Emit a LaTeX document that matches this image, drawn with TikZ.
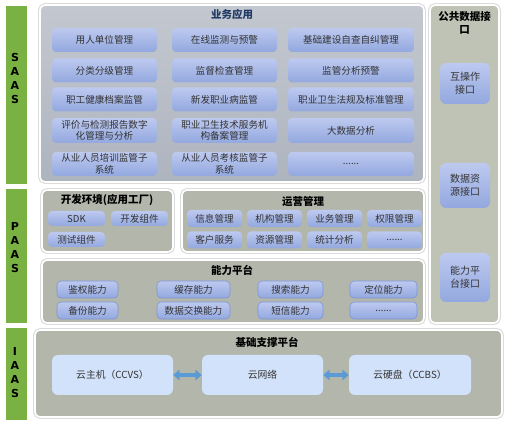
\documentclass[tikz,border=0pt]{standalone}
\usepackage{fontspec}
\setmainfont{Noto Sans CJK SC}
\newfontfamily\lettersfont{DejaVu Sans}
\usetikzlibrary{arrows.meta}
\definecolor{barg}{HTML}{79B243}
\definecolor{saastop}{HTML}{C3C8D0}
\definecolor{saasbot}{HTML}{AEB4BE}
\definecolor{graypan}{HTML}{B3B6AA}
\definecolor{rightpan}{HTML}{BFC3B5}
\definecolor{boxtop}{HTML}{BDC9EF}
\definecolor{boxbot}{HTML}{93A8DF}
\definecolor{boxline}{HTML}{7D95D6}
\definecolor{iboxfill}{HTML}{D3E2FB}
\definecolor{txt}{HTML}{333333}
\definecolor{navy}{HTML}{1F3A64}
\definecolor{arrowblue}{HTML}{5B9BD5}
\begin{document}
\begin{tikzpicture}[x=1pt,y=-1pt,
  bar/.style={fill=barg, draw=white, line width=0.8pt, minimum width=22pt, inner sep=0pt},
  letters/.style={font=\lettersfont\bfseries\fontsize{11}{14}\selectfont, align=center, inner sep=0pt},
  panel/.style={draw=white, line width=1.6pt, rounded corners=5pt, inner sep=0pt, preaction={draw=black!14, line width=3.8pt}},
  saaspanel/.style={panel, top color=saastop, bottom color=saasbot},
  graypanel/.style={panel, fill=graypan},
  rightpanel/.style={panel, fill=rightpan},
  box/.style={rounded corners=4pt, top color=boxtop, bottom color=boxbot, inner sep=0pt, text=txt, align=center, font=\fontsize{9.6}{11.5}\selectfont},
  bbox/.style={box, draw=boxline, line width=0.6pt},
  rbox/.style={box, rounded corners=6pt, minimum width=50pt, font=\fontsize{10}{13}\selectfont},
  ibox/.style={fill=iboxfill, rounded corners=6pt, inner sep=0pt, text=txt, minimum height=40pt, font=\fontsize{9.8}{12}\selectfont},
  ttl/.style={font=\bfseries\fontsize{10.5}{13}\selectfont, inner sep=0pt, align=center},
  arr/.style={draw=arrowblue, line width=4.5pt, {Triangle[width=10.5pt,length=6.5pt]}-{Triangle[width=10.5pt,length=6.5pt]}}
]
\fill[white] (0,0) rectangle (507,425);
\useasboundingbox (0,0) rectangle (507,425);

% left bars
\node[bar, minimum height=179pt] (saasbar) at (16,94.5) {};
\node[bar, minimum height=135pt] (paasbar) at (16,255.5) {};
\node[bar, minimum height=93pt] (iaasbar) at (16,373.5) {};
\node[letters] (saaslbl) at (15,78.5) {S\\A\\A\\S};
\node[letters] (paaslbl) at (15,248) {P\\A\\A\\S};
\node[letters] (iaaslbl) at (15,373) {I\\A\\A\\S};

% panels
\node[saaspanel, minimum width=384pt, minimum height=177pt] (saas) at (232,93.5) {};
\node[rightpanel, minimum width=69pt, minimum height=318pt] (pub) at (464.5,164) {};
\node[graypanel, minimum width=131pt, minimum height=62pt] (dev) at (107.5,221) {};
\node[graypanel, minimum width=242pt, minimum height=62pt] (ops) at (303,221) {};
\node[graypanel, minimum width=382pt, minimum height=63pt] (abl) at (233,291.5) {};
\node[graypanel, minimum width=467pt, minimum height=87pt] (iaas) at (268.5,373.5) {};

% titles
\node[ttl, text=navy] (saasttl) at (232,14) {业务应用};
\node[ttl] (pubttl) at (464.5,22.5) {公共数据接\\口};
\node[ttl] (devttl) at (107,200) {开发环境(应用工厂)};
\node[ttl] (opsttl) at (303,201.5) {运营管理};
\node[ttl] (ablttl) at (232,270) {能力平台};
\node[ttl] (iaasttl) at (267,342) {基础支撑平台};

% SAAS boxes
\node[box, minimum width=105pt, minimum height=24pt] (s11) at (104.5,40) {用人单位管理};
\node[box, minimum width=105pt, minimum height=24pt] (s12) at (224.5,40) {在线监测与预警};
\node[box, minimum width=126pt, minimum height=24pt] (s13) at (351,40) {基础建设自查自纠管理};
\node[box, minimum width=105pt, minimum height=24pt] (s21) at (104.5,70.5) {分类分级管理};
\node[box, minimum width=105pt, minimum height=24pt] (s22) at (224.5,70.5) {监督检查管理};
\node[box, minimum width=126pt, minimum height=24pt] (s23) at (351,70.5) {监管分析预警};
\node[box, minimum width=105pt, minimum height=24pt] (s31) at (104.5,99.5) {职工健康档案监管};
\node[box, minimum width=105pt, minimum height=24pt] (s32) at (224.5,99.5) {新发职业病监管};
\node[box, minimum width=126pt, minimum height=24pt] (s33) at (351,99.5) {职业卫生法规及标准管理};
\node[box, minimum width=105pt, minimum height=25pt] (s41) at (104.5,130.5) {评价与检测报告数字\\化管理与分析};
\node[box, minimum width=105pt, minimum height=25pt] (s42) at (224.5,130.5) {职业卫生技术服务机\\构备案管理};
\node[box, minimum width=126pt, minimum height=25pt] (s43) at (351,130.5) {大数据分析};
\node[box, minimum width=105pt, minimum height=24pt] (s51) at (104.5,164) {从业人员培训监管子\\系统};
\node[box, minimum width=105pt, minimum height=24pt] (s52) at (224.5,164) {从业人员考核监管子\\系统};
\node[box, minimum width=126pt, minimum height=24pt] (s53) at (351,164) {......};

% right panel boxes
\node[rbox, minimum height=41pt] (r1) at (465,83.5) {互操作\\接口};
\node[rbox, minimum height=45pt] (r2) at (465,185.5) {数据资\\源接口};
\node[rbox, minimum height=49pt] (r3) at (465,277.5) {能力平\\台接口};

% dev boxes
\node[box, minimum width=57pt, minimum height=15pt] (d1) at (76.5,218.5) {SDK};
\node[box, minimum width=57pt, minimum height=15pt] (d2) at (139.5,218.5) {开发组件};
\node[box, minimum width=57pt, minimum height=15pt] (d3) at (76.5,239.5) {测试组件};

% ops boxes
\node[box, minimum width=55pt, minimum height=17pt] (o11) at (214.5,218.5) {信息管理};
\node[box, minimum width=55pt, minimum height=17pt] (o12) at (274.5,218.5) {机构管理};
\node[box, minimum width=55pt, minimum height=17pt] (o13) at (334.5,218.5) {业务管理};
\node[box, minimum width=55pt, minimum height=17pt] (o14) at (394.5,218.5) {权限管理};
\node[box, minimum width=55pt, minimum height=17pt] (o21) at (214.5,240) {客户服务};
\node[box, minimum width=55pt, minimum height=17pt] (o22) at (274.5,240) {资源管理};
\node[box, minimum width=55pt, minimum height=17pt] (o23) at (334.5,240) {统计分析};
\node[box, minimum width=55pt, minimum height=17pt] (o24) at (394.5,240) {......};

% ability boxes
\node[bbox, minimum width=61pt, minimum height=17pt] (a11) at (87.5,289.5) {鉴权能力};
\node[bbox, minimum width=73pt, minimum height=17pt] (a12) at (193.5,289.5) {缓存能力};
\node[bbox, minimum width=65pt, minimum height=17pt] (a13) at (290.5,289.5) {搜索能力};
\node[bbox, minimum width=67pt, minimum height=17pt] (a14) at (383.5,289.5) {定位能力};
\node[bbox, minimum width=61pt, minimum height=17pt] (a21) at (87.5,310.5) {备份能力};
\node[bbox, minimum width=73pt, minimum height=17pt] (a22) at (193.5,310.5) {数据交换能力};
\node[bbox, minimum width=65pt, minimum height=17pt] (a23) at (290.5,310.5) {短信能力};
\node[bbox, minimum width=67pt, minimum height=17pt] (a24) at (383.5,310.5) {......};

% IAAS boxes
\node[ibox, minimum width=121pt] (i1) at (112.5,375) {云主机（CCVS）};
\node[ibox, minimum width=121pt] (i2) at (262.5,375) {云网络};
\node[ibox, minimum width=122pt] (i3) at (410,375) {云硬盘（CCBS）};
\draw[arr] (i1.east) -- (i2.west);
\draw[arr] (i2.east) -- (i3.west);
\end{tikzpicture}
\end{document}
